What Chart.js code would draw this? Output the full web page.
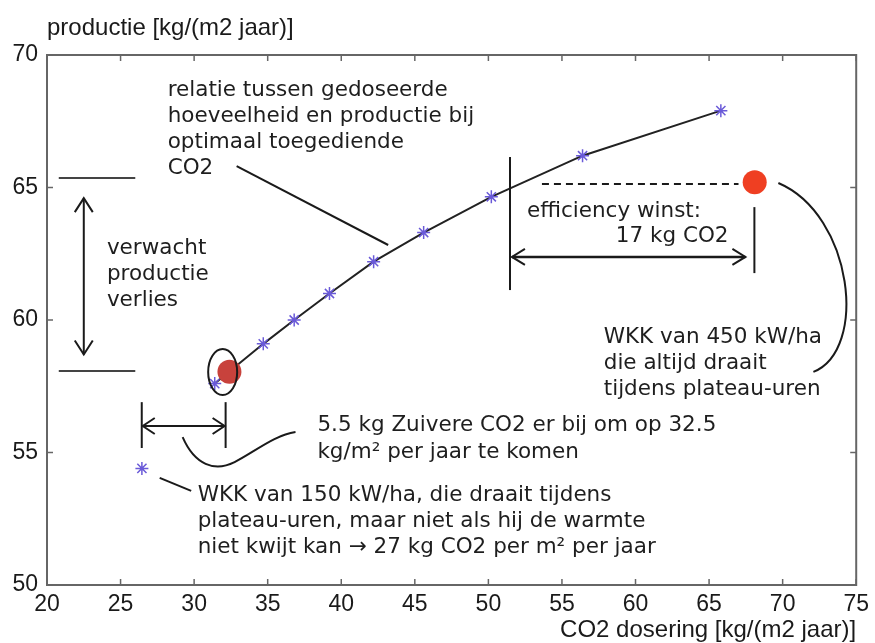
<!DOCTYPE html>
<html><head><meta charset="utf-8">
<script src="https://cdn.jsdelivr.net/npm/chart.js@4.4.1/dist/chart.umd.min.js"></script>
<style>html,body{margin:0;padding:0;background:#fff}#wrap{width:875px;height:643px}</style>
</head><body><div id="wrap"><canvas id="c" width="875" height="643"></canvas></div>
<script>
// ---- data ----
const curveX = [31.4, 34.7, 36.8, 39.2, 42.2, 45.6, 50.2, 56.4, 65.8];
const curveY = [57.6, 59.1, 60.0, 61.0, 62.2, 63.3, 64.65, 66.2, 67.9];
const wkk150X = [26.45];
const wkk150Y = [54.4];
const targetX = [32.4];
const targetY = [58.05];
const wkk450X = [68.1];
const wkk450Y = [65.2];
const xTicks = [20, 25, 30, 35, 40, 45, 50, 55, 60, 65, 70, 75];
const yTicks = [50, 55, 60, 65, 70];
const yTitle = 'productie [kg/(m2 jaar)]';
const xTitle = 'CO2 dosering [kg/(m2 jaar)]';
const txtRelatie = ['relatie tussen gedoseerde', 'hoeveelheid en productie bij', 'optimaal toegediende', 'CO2'];
const txtVerlies = ['verwacht', 'productie', 'verlies'];
const txtZuiver = ['5.5 kg Zuivere CO2 er bij om op 32.5', 'kg/m² per jaar te komen'];
const txt150 = ['WKK van 150 kW/ha, die draait tijdens', 'plateau-uren, maar niet als hij de warmte', 'niet kwijt kan → 27 kg CO2 per m² per jaar'];
const txt450 = ['WKK van 450 kW/ha', 'die altijd draait', 'tijdens plateau-uren'];
const txtEff1 = 'efficiency winst:';
const txtEff2 = '17 kg CO2';

const toPts = (xs, ys) => xs.map((v, i) => ({x: v, y: ys[i]}));

// annotation anchors in data units
const A = {
  relText: [28.2, 68.45], relPtr: [[32.89, 65.81], [43.19, 62.83]],
  verText: [24.07, 62.49],
  lossTop: [[20.8, 65.36], [26.0, 65.36]], lossBot: [[20.8, 58.08], [26.0, 58.08]],
  lossArrow: [22.5, 64.6, 58.7],
  ellipse: [31.94, 58.04],
  brL: [26.44, 56.9, 55.17], brR: [32.14, 56.9, 55.17], brArrow: [26.44, 32.14, 56.0],
  sCurve: [[29.22, 55.58], [30.04, 54.53], [31.39, 54.26], [32.75, 54.64], [34.11, 55.02], [35.46, 55.66], [36.89, 55.77]],
  zuivText: [38.38, 55.81],
  ptr150: [[27.66, 54.04], [29.8, 53.55]],
  t150: [30.24, 53.17],
  t450: [57.84, 59.13],
  rCurve: [[69.71, 65.17], [74.8, 63.96], [75.82, 58.87], [72.09, 58.04]],
  dash: [53.64, 67.0, 65.13],
  vL: [51.47, 66.15, 61.13], vR: [68.08, 64.26, 61.77],
  hArrow: [51.6, 67.47, 62.38],
  eff1: [52.62, 63.89], eff2: [66.32, 62.94]
};

function head(ctx, tx, ty, dx, dy, len, half) {
  const px = -dy, py = dx;
  ctx.beginPath();
  ctx.moveTo(tx - dx * len + px * half, ty - dy * len + py * half);
  ctx.lineTo(tx, ty);
  ctx.lineTo(tx - dx * len - px * half, ty - dy * len - py * half);
  ctx.stroke();
}

const annot = {
  id: 'annot',
  afterDatasetsDraw(chart) {
    const {ctx, chartArea: a, scales: {x, y}} = chart;
    const X = v => x.getPixelForValue(v), Y = v => y.getPixelForValue(v);
    ctx.save();
    // frame
    ctx.strokeStyle = '#666'; ctx.lineWidth = 2;
    ctx.strokeRect(a.left, a.top, a.right - a.left, a.bottom - a.top);
    ctx.lineWidth = 1.5;
    xTicks.forEach(t => { const p = X(t);
      ctx.beginPath(); ctx.moveTo(p, a.bottom); ctx.lineTo(p, a.bottom - 6); ctx.stroke();
      ctx.beginPath(); ctx.moveTo(p, a.top); ctx.lineTo(p, a.top + 6); ctx.stroke(); });
    yTicks.forEach(t => { const p = Y(t);
      ctx.beginPath(); ctx.moveTo(a.left, p); ctx.lineTo(a.left + 6, p); ctx.stroke();
      ctx.beginPath(); ctx.moveTo(a.right, p); ctx.lineTo(a.right - 6, p); ctx.stroke(); });
    // titles
    ctx.fillStyle = '#1a1a1a'; ctx.font = '24px "Liberation Sans", Arial, sans-serif';
    ctx.textBaseline = 'alphabetic';
    ctx.textAlign = 'left'; ctx.fillText(yTitle, a.left, 35);
    ctx.textAlign = 'right'; ctx.fillText(xTitle, a.right, 637);

    // annotation lines
    ctx.strokeStyle = '#1a1a1a'; ctx.lineWidth = 2; ctx.lineCap = 'butt';
    const line = (p, q) => { ctx.beginPath(); ctx.moveTo(X(p[0]), Y(p[1])); ctx.lineTo(X(q[0]), Y(q[1])); ctx.stroke(); };
    line(A.relPtr[0], A.relPtr[1]);
    line(A.ptr150[0], A.ptr150[1]);
    ctx.strokeStyle = '#444';
    line(A.lossTop[0], A.lossTop[1]);
    line(A.lossBot[0], A.lossBot[1]);
    ctx.strokeStyle = '#1a1a1a';
    // vertical loss arrow
    { const xx = X(A.lossArrow[0]), y1 = Y(A.lossArrow[1]), y2 = Y(A.lossArrow[2]);
      ctx.beginPath(); ctx.moveTo(xx, y1); ctx.lineTo(xx, y2); ctx.stroke();
      head(ctx, xx, y1, 0, -1, 14, 9); head(ctx, xx, y2, 0, 1, 14, 9); }
    // ellipse
    ctx.beginPath(); ctx.ellipse(X(A.ellipse[0]), Y(A.ellipse[1]), 14.5, 23, 0, 0, Math.PI * 2); ctx.stroke();
    // bracket
    line([A.brL[0], A.brL[1]], [A.brL[0], A.brL[2]]);
    line([A.brR[0], A.brR[1]], [A.brR[0], A.brR[2]]);
    { const x1 = X(A.brArrow[0]) + 1, x2 = X(A.brArrow[1]) - 1, yy = Y(A.brArrow[2]);
      ctx.beginPath(); ctx.moveTo(x1, yy); ctx.lineTo(x2, yy); ctx.stroke();
      head(ctx, x1, yy, -1, 0, 12, 8); head(ctx, x2, yy, 1, 0, 12, 8); }
    // S curve
    { const s = A.sCurve.map(p => [X(p[0]), Y(p[1])]);
      ctx.beginPath(); ctx.moveTo(s[0][0], s[0][1]);
      ctx.bezierCurveTo(s[1][0], s[1][1], s[2][0], s[2][1], s[3][0], s[3][1]);
      ctx.bezierCurveTo(s[4][0], s[4][1], s[5][0], s[5][1], s[6][0], s[6][1]);
      ctx.stroke(); }
    // right curve
    { const s = A.rCurve.map(p => [X(p[0]), Y(p[1])]);
      ctx.beginPath(); ctx.moveTo(s[0][0], s[0][1]);
      ctx.bezierCurveTo(s[1][0], s[1][1], s[2][0], s[2][1], s[3][0], s[3][1]); ctx.stroke(); }
    // dashed
    ctx.setLineDash([7, 5]);
    line([A.dash[0], A.dash[2]], [A.dash[1], A.dash[2]]);
    ctx.setLineDash([]);
    line([A.vL[0], A.vL[1]], [A.vL[0], A.vL[2]]);
    line([A.vR[0], A.vR[1]], [A.vR[0], A.vR[2]]);
    { const x1 = X(A.hArrow[0]), x2 = X(A.hArrow[1]), yy = Y(A.hArrow[2]);
      ctx.lineWidth = 2.5;
      ctx.beginPath(); ctx.moveTo(x1, yy); ctx.lineTo(x2, yy); ctx.stroke();
      ctx.lineWidth = 2;
      head(ctx, x1, yy, -1, 0, 13, 8); head(ctx, x2, yy, 1, 0, 13, 8); }

    // texts
    ctx.fillStyle = '#1e1e1e'; ctx.font = '21.5px "DejaVu Sans", Verdana, sans-serif';
    ctx.textAlign = 'left'; ctx.textBaseline = 'alphabetic';
    const block = (lines, p, lh) => lines.forEach((t, i) => ctx.fillText(t, X(p[0]), Y(p[1]) + i * lh));
    block(txtRelatie, A.relText, 26);
    block(txtVerlies, A.verText, 26);
    block(txtZuiver, A.zuivText, 27);
    block(txt150, A.t150, 26);
    block(txt450, A.t450, 26);
    ctx.fillText(txtEff1, X(A.eff1[0]), Y(A.eff1[1]));
    ctx.textAlign = 'right';
    ctx.fillText(txtEff2, X(A.eff2[0]), Y(A.eff2[1]));
    ctx.restore();
  }
};

const tickFont = {family: '"Liberation Sans", Arial, sans-serif', size: 23};
new Chart(document.getElementById('c'), {
  type: 'scatter',
  data: {
    datasets: [
      {data: toPts(targetX, targetY), pointRadius: 12, pointHoverRadius: 12, backgroundColor: '#c8423c', borderWidth: 0, pointBorderWidth: 0, order: 0},
      {data: toPts(wkk450X, wkk450Y), pointRadius: 12, pointHoverRadius: 12, backgroundColor: '#ef3f22', borderWidth: 0, pointBorderWidth: 0, order: 0},
      {data: toPts(wkk150X, wkk150Y), pointStyle: 'star', pointRadius: 6.5, borderColor: '#6a5ad8', pointBorderWidth: 1.5, backgroundColor: '#6a5ad8', order: 1},
      {data: toPts(curveX, curveY), showLine: true, borderColor: '#222', borderWidth: 2, pointStyle: 'star', pointRadius: 6.5, pointBorderColor: '#6a5ad8', pointBackgroundColor: '#6a5ad8', pointBorderWidth: 1.5, order: 2}
    ]
  },
  options: {
    responsive: false, animation: false, devicePixelRatio: 1,
    layout: {padding: {top: 55, right: 17, left: 0, bottom: 0}},
    plugins: {legend: {display: false}, tooltip: {enabled: false}, title: {display: false}},
    scales: {
      x: {type: 'linear', min: 20, max: 75,
        afterBuildTicks: s => { s.ticks = xTicks.map(v => ({value: v})); },
        afterFit: s => { s.height = 58; },
        ticks: {font: tickFont, color: '#1a1a1a', padding: 6, autoSkip: false, maxRotation: 0},
        grid: {display: false, drawTicks: false}, border: {display: false}},
      y: {type: 'linear', min: 50, max: 70,
        afterBuildTicks: s => { s.ticks = yTicks.map(v => ({value: v})); },
        afterFit: s => { s.width = 47; },
        ticks: {font: tickFont, color: '#1a1a1a', padding: 9, autoSkip: false},
        grid: {display: false, drawTicks: false}, border: {display: false}}
    }
  },
  plugins: [annot]
});
</script></body></html>
